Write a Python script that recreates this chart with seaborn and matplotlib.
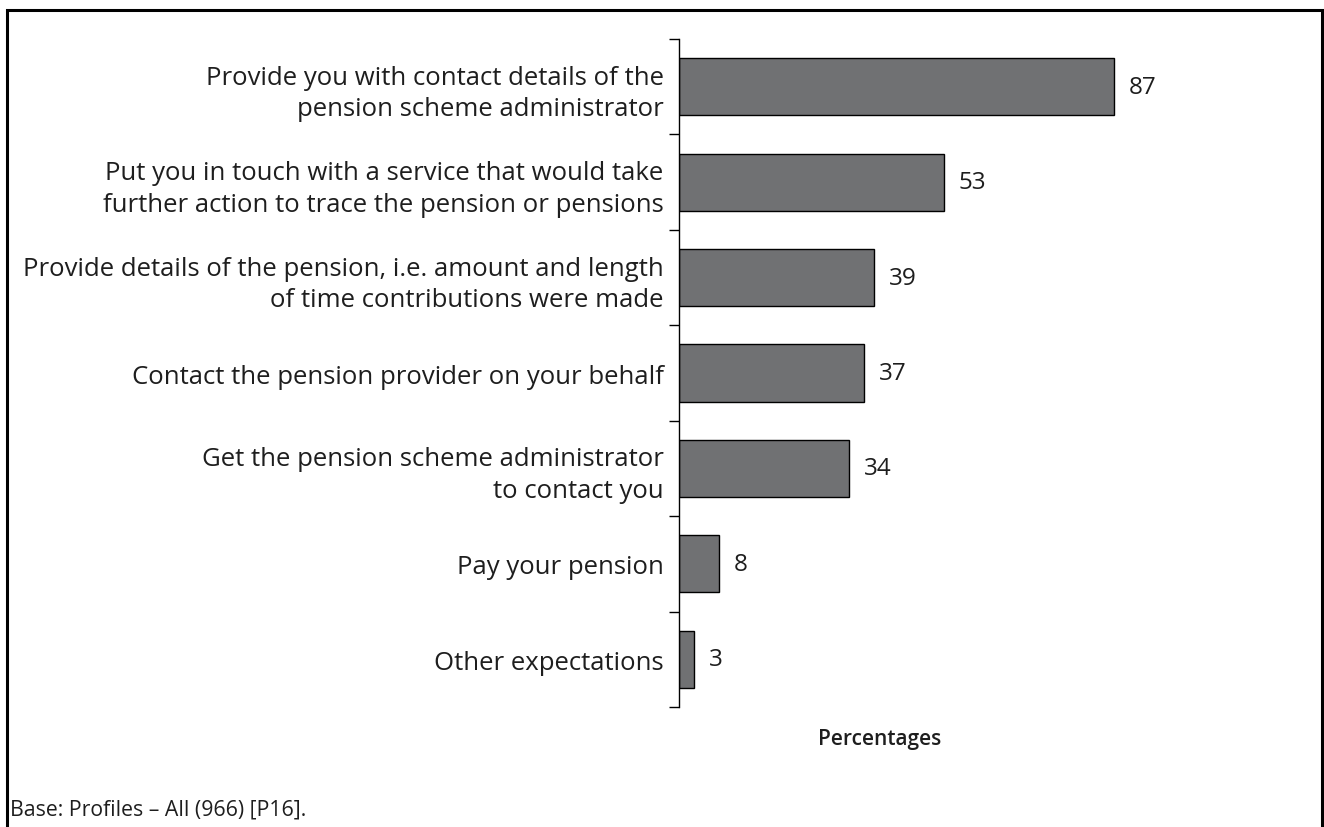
import matplotlib
matplotlib.use("Agg")
import matplotlib.pyplot as plt
import seaborn as sns
import pandas as pd
from matplotlib.patches import Rectangle

categories = [
    "Provide you with contact details of the\npension scheme administrator",
    "Put you in touch with a service that would take\nfurther action to trace the pension or pensions",
    "Provide details of the pension, i.e. amount and length\nof time contributions were made",
    "Contact the pension provider on your behalf",
    "Get the pension scheme administrator\nto contact you",
    "Pay your pension",
    "Other expectations",
]
values = [87, 53, 39, 37, 34, 8, 3]

df = pd.DataFrame({"category": categories, "value": values})

sns.set_theme(style="white")
plt.rcParams["font.family"] = ["Open Sans", "DejaVu Sans"]
plt.rcParams["text.color"] = "#1e1e1e"

W, H = 1324, 828
fig = plt.figure(figsize=(W / 100, H / 100), dpi=100)
top_px, bot_px = 40, 708
ax = fig.add_axes([679 / W, 1 - bot_px / H, 500 / W, (bot_px - top_px) / H])

sns.barplot(data=df, x="value", y="category", ax=ax, color="#707173",
            edgecolor="black", linewidth=1.0, width=0.6, saturation=1)

ax.set_xlim(0, 100)
ax.set_ylim(len(categories) - 0.5, -0.5)

for i, v in enumerate(values):
    ax.text(v + 2.9, i, f"{v}", va="center", ha="left", fontsize=17.5,
            color="#1e1e1e")

# Category labels sit between boundary ticks
ax.set_yticks(range(len(categories)))
ax.set_yticklabels(categories, fontsize=18.5, color="#1e1e1e", linespacing=1.35)
ax.tick_params(axis="y", which="major", length=0, pad=11)
ax.set_yticks([i - 0.5 for i in range(len(categories) + 1)], minor=True)
ax.tick_params(axis="y", which="minor", length=7, width=1, color="black", left=True)
for lbl in ax.get_yticklabels():
    lbl.set_horizontalalignment("right")

ax.set_xticks([])
ax.set_xlabel("")
ax.set_ylabel("")
for s in ["top", "right", "bottom"]:
    ax.spines[s].set_visible(False)
ax.spines["left"].set_color("black")
ax.spines["left"].set_linewidth(1.0)

fig.text(880 / W, 1 - 740 / H, "Percentages", ha="center", va="center",
         fontsize=15, fontweight="semibold", color="#1e1e1e")
fig.text(10 / W, 1 - 810 / H, "Base: Profiles \u2013 All (966) [P16].",
         ha="left", va="center", fontsize=15.3, color="#1e1e1e")

# Outer frame: top, left and right edges (bottom runs off the canvas)
frame = Rectangle((7 / W, -0.05), (1322 - 7) / W, 1.05 - 11 / H,
                  transform=fig.transFigure, fill=False, edgecolor="black",
                  linewidth=2.2, clip_on=False)
fig.patches.append(frame)

fig.savefig("out.png", dpi=100)
